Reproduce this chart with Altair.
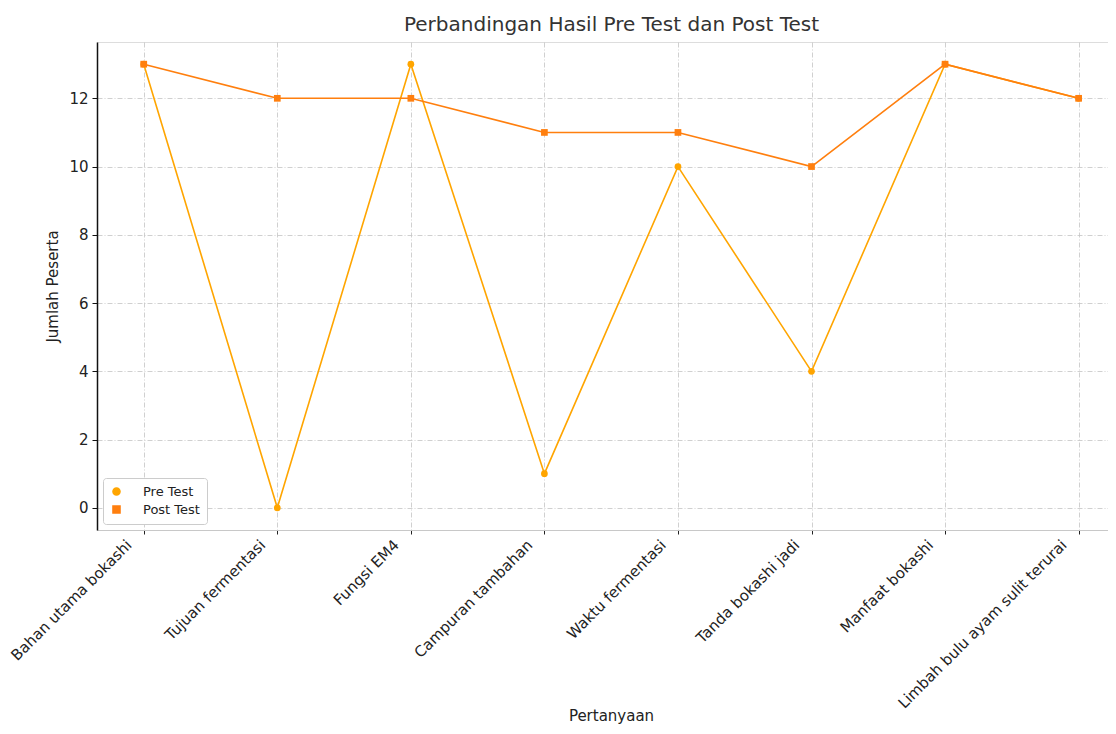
import json
import pandas as pd
import altair as alt

categories = [
    "Bahan utama bokashi",
    "Tujuan fermentasi",
    "Fungsi EM4",
    "Campuran tambahan",
    "Waktu fermentasi",
    "Tanda bokashi jadi",
    "Manfaat bokashi",
    "Limbah bulu ayam sulit terurai",
]
pre_test = [13, 0, 13, 1, 10, 4, 13, 12]
post_test = [13, 12, 12, 11, 11, 10, 13, 12]
series_names = ["Pre Test", "Post Test"]
series_colors = ["#FFA500", "#FF7F0E"]
series_shapes = ["circle", "square"]
y_ticks = [0, 2, 4, 6, 8, 10, 12]

rows = []
for i, c in enumerate(categories):
    rows.append({"idx": i, "Pertanyaan": c, "Seri": "Pre Test", "Jumlah": pre_test[i]})
for i, c in enumerate(categories):
    rows.append({"idx": i, "Pertanyaan": c, "Seri": "Post Test", "Jumlah": post_test[i]})
df = pd.DataFrame(rows)

FONT = "DejaVu Sans"
label_expr = json.dumps(categories) + "[datum.value]"

x_enc = alt.X(
    "idx:Q",
    scale=alt.Scale(domain=[-0.35, 7.22], nice=False, zero=False),
    axis=alt.Axis(
        values=list(range(len(categories))),
        labelExpr=label_expr,
        labelOverlap=False,
        labelLimit=400,
        labelAngle=-45,
        labelAlign="right",
        labelBaseline="middle",
        labelPadding=8,
        labelOffset=-15,
        labelFontSize=15,
        labelColor="#222",
        labelFont=FONT,
        title="Pertanyaan",
        titleFont=FONT,
        titleFontSize=15,
        titleFontWeight="normal",
        titleColor="#222",
        titleY=193,
        titleX=514,
        titleBaseline="bottom",
        grid=True,
        gridColor="#c4c4c4",
        gridDash=[5, 2, 1, 2],
        gridWidth=0.8,
        domainColor="#c8c8c8",
        domainWidth=1.2,
        tickColor="#222",
        tickSize=4,
    ),
)
y_enc = alt.Y(
    "Jumlah:Q",
    scale=alt.Scale(domain=[-0.65, 13.65], nice=False, zero=False),
    axis=alt.Axis(
        values=y_ticks,
        labelFontSize=15,
        labelFont=FONT,
        labelColor="#222",
        labelPadding=4,
        title="Jumlah Peserta",
        titleFont=FONT,
        titleFontSize=15,
        titleFontWeight="normal",
        titleColor="#222",
        titlePadding=8,
        grid=True,
        gridColor="#c4c4c4",
        gridDash=[5, 2, 1, 2],
        gridWidth=0.8,
        domainColor="#111",
        domainWidth=1.5,
        tickColor="#111",
        tickSize=5,
    ),
)
color_enc = alt.Color(
    "Seri:N",
    scale=alt.Scale(domain=series_names, range=series_colors),
    legend=alt.Legend(
        title=None,
        orient="bottom-left",
        offset=6,
        fillColor="white",
        strokeColor="#cccccc",
        cornerRadius=3,
        padding=7,
        labelFont=FONT,
        labelFontSize=13,
        labelColor="#222",
        labelOffset=20,
        symbolSize=50,
        rowPadding=3,
        labelLimit=200,
    ),
)
shape_enc = alt.Shape(
    "Seri:N",
    scale=alt.Scale(domain=series_names, range=series_shapes),
    legend=alt.Legend(title=None),
)

layers = []
for name in series_names:
    base = alt.Chart(df).transform_filter(alt.datum.Seri == name)
    line = base.mark_line(strokeWidth=1.6).encode(x=x_enc, y=y_enc, color=color_enc)
    pts = base.mark_point(filled=True, size=45, opacity=1).encode(
        x=x_enc, y=y_enc, color=color_enc, shape=shape_enc
    )
    layers += [line, pts]

chart = (
    alt.layer(*layers)
    .properties(
        width=1011,
        height=488,
        title=alt.TitleParams(
            "Perbandingan Hasil Pre Test dan Post Test",
            font=FONT,
            fontSize=20,
            fontWeight="normal",
            color="#333",
            baseline="bottom",
            offset=8,
            dx=9,
            dy=21,
        ),
        autosize=alt.AutoSizeParams(type="none"),
        padding={"left": 89, "top": 34, "right": 0, "bottom": 194},
    )
    .configure_view(stroke=None)
    .configure(background="white")
)

chart.save("out.html", embed_options={"renderer": "svg", "actions": False})
